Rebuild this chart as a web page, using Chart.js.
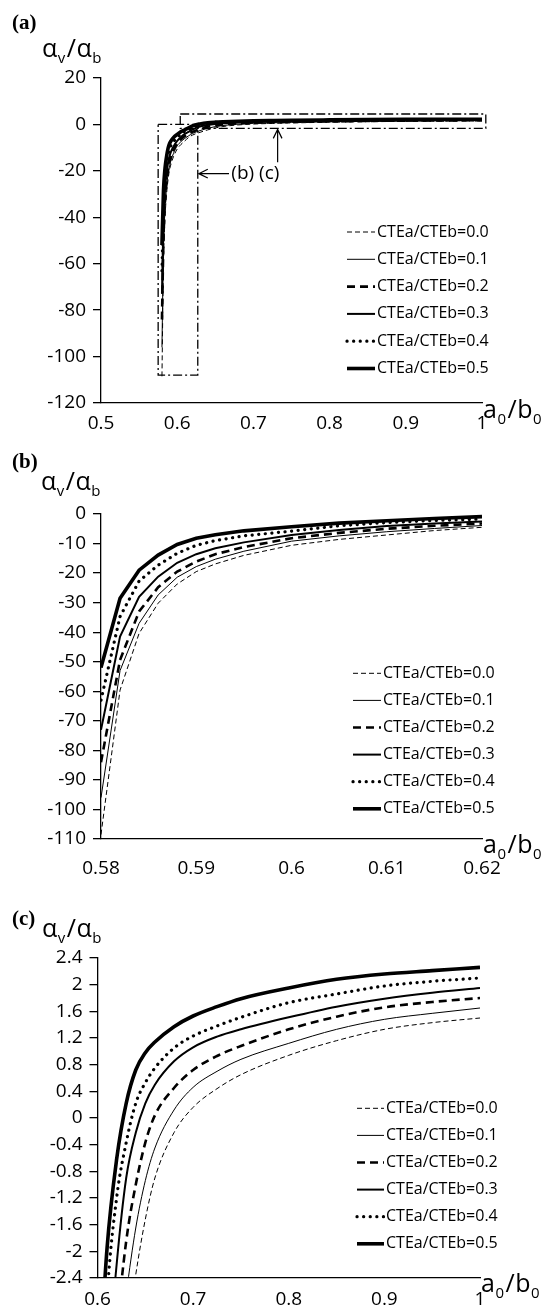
<!DOCTYPE html>
<html>
<head>
<meta charset="utf-8">
<script src="https://cdn.jsdelivr.net/npm/chart.js@4.4.0/dist/chart.umd.min.js"></script>
<style>
  html, body { margin: 0; padding: 0; background: #fff; }
  #wrap { position: relative; width: 546px; height: 1305px; overflow: hidden; }
  canvas { position: absolute; left: 0; }
</style>
</head>
<body>
<div id="wrap">
  <canvas id="chartA" width="546" height="440" style="top:0"></canvas>
  <canvas id="chartB" width="546" height="450" style="top:430px"></canvas>
  <canvas id="chartC" width="546" height="435" style="top:870px"></canvas>
</div>
<script>
// CTEa/CTEb ratios, one curve each
const ratios = ["0.0", "0.1", "0.2", "0.3", "0.4", "0.5"];

// panel (b): close-up of 0.58 - 0.62
const xB = [0.58, 0.582, 0.584, 0.586, 0.588, 0.59, 0.592, 0.595, 0.6, 0.605, 0.61, 0.615, 0.62];
const yB00 = [-108.5, -59.6, -40.4, -30.2, -23.7, -19.5, -16.9, -14.0, -10.6, -8.6, -7.1, -5.6, -4.5];
const yB01 = [-96, -53, -37, -27.4, -21.4, -17.8, -15.3, -12.6, -9.2, -7.4, -6.0, -4.9, -3.9];
const yB02 = [-84, -49.4, -33, -24.8, -19.5, -16.1, -13.6, -11.2, -8.2, -6.4, -5.0, -4.0, -3.2];
const yB03 = [-73, -41.5, -28, -21.2, -16.5, -13.6, -11.6, -9.6, -7.1, -5.4, -4.1, -3.2, -2.5];
const yB04 = [-63, -34.7, -22.7, -17.3, -13.3, -10.6, -9.0, -7.4, -5.8, -4.0, -2.9, -2.2, -1.7];
const yB05 = [-52, -28.5, -19, -13.9, -10.3, -8.2, -7.0, -5.7, -4.3, -3.1, -2.3, -1.5, -0.9];

// panel (c): close-up of 0.6 - 1, y clipped to +-2.4
const xC = [0.6, 0.61, 0.62, 0.63, 0.64, 0.65, 0.66, 0.68, 0.7, 0.725, 0.75, 0.8, 0.85, 0.9, 0.95, 1.0];
const yC00 = [-10.6, -7.1, -4.6, -3.4, -2.35, -1.52, -0.9, -0.22, 0.16, 0.44, 0.65, 0.94, 1.16, 1.33, 1.43, 1.5];
const yC01 = [-9.2, -6.0, -3.9, -2.65, -1.65, -0.94, -0.45, 0.12, 0.46, 0.7, 0.88, 1.12, 1.33, 1.48, 1.57, 1.65];
const yC02 = [-8.2, -5.0, -3.2, -1.85, -1.0, -0.37, 0.04, 0.45, 0.72, 0.93, 1.08, 1.33, 1.52, 1.66, 1.74, 1.8];
const yC03 = [-7.1, -4.0, -2.2, -0.9, -0.22, 0.22, 0.5, 0.85, 1.06, 1.22, 1.33, 1.51, 1.67, 1.79, 1.88, 1.95];
const yC04 = [-5.8, -2.7, -1.2, -0.37, 0.22, 0.53, 0.75, 1.05, 1.23, 1.38, 1.51, 1.73, 1.86, 1.98, 2.05, 2.1];
const yC05 = [-4.3, -1.95, -0.62, 0.22, 0.72, 0.98, 1.14, 1.37, 1.53, 1.67, 1.79, 1.95, 2.08, 2.16, 2.21, 2.26];

const seriesB = [yB00, yB01, yB02, yB03, yB04, yB05];
const seriesC = [yC00, yC01, yC02, yC03, yC04, yC05];

// zoom windows marked on panel (a)
const windowB = { x: [0.575, 0.627], y: [-108, 0] };
const windowC = { x: [0.604, 1.005], y: [-1.7, 4.5] };

// line look of each ratio
const lineStyles = [
  { width: 1, dash: [5, 3], cap: "butt" },
  { width: 1, dash: [], cap: "butt" },
  { width: 2.6, dash: [8, 5], cap: "butt" },
  { width: 2, dash: [], cap: "butt" },
  { width: 3.2, dash: [0.1, 6.5], cap: "round" },
  { width: 3.6, dash: [], cap: "butt" },
];

const FONT = '"Open Sans", sans-serif';
Chart.defaults.font.family = FONT;
Chart.defaults.color = "#000";

function seriesDatasets(xs, ys, interp) {
  return ys.map((vals, i) => ({
    label: "CTEa/CTEb=" + ratios[i],
    isSeries: true,
    data: xs.map((x, j) => ({ x: x, y: vals[j] })),
    borderColor: "#000",
    borderWidth: lineStyles[i].width,
    borderDash: lineStyles[i].dash,
    borderCapStyle: lineStyles[i].cap,
    pointRadius: 0,
    fill: false,
    tension: 0,
    cubicInterpolationMode: interp ? "monotone" : "default",
    order: 0,
  }));
}

function windowDataset(w) {
  const pts = [[w.x[0], w.y[1]], [w.x[1], w.y[1]], [w.x[1], w.y[0]], [w.x[0], w.y[0]], [w.x[0], w.y[1]]];
  return {
    data: pts.map(p => ({ x: p[0], y: p[1] })),
    borderColor: "#000",
    borderWidth: 1.3,
    borderDash: [9, 3, 2, 3],
    pointRadius: 0,
    fill: false,
    clip: false,
    order: 10,
  };
}

// text with subscripts, e.g. alpha_v / alpha_b
function drawSubText(ctx, parts, x, y, big, small) {
  ctx.textBaseline = "alphabetic";
  ctx.textAlign = "left";
  for (const [t, sub] of parts) {
    ctx.font = (sub ? small : big) + "px " + FONT;
    ctx.fillText(t, x, sub ? y + big * 0.22 : y);
    x += ctx.measureText(t).width + (sub ? 1.5 : 0.5);
  }
}

function drawArrow(ctx, x0, y0, x1, y1) {
  const a = Math.atan2(y1 - y0, x1 - x0);
  const h = 10;
  ctx.beginPath();
  ctx.moveTo(x0, y0);
  ctx.lineTo(x1, y1);
  ctx.moveTo(x1 - h * Math.cos(a - 0.45), y1 - h * Math.sin(a - 0.45));
  ctx.lineTo(x1, y1);
  ctx.lineTo(x1 - h * Math.cos(a + 0.45), y1 - h * Math.sin(a + 0.45));
  ctx.stroke();
}

const extras = {
  id: "extras",
  afterDraw(chart, args, o) {
    const ctx = chart.ctx;
    ctx.save();
    ctx.fillStyle = "#000";
    ctx.strokeStyle = "#000";

    // panel letter
    ctx.font = 'bold 21px "Liberation Serif", serif';
    ctx.textBaseline = "alphabetic";
    ctx.fillText(o.panel, o.panelPos[0], o.panelPos[1]);

    // axis titles
    drawSubText(ctx, [["α", 0], ["v", 1], ["/", 0], ["α", 0], ["b", 1]], o.yTitle[0], o.yTitle[1], 25, 15);
    drawSubText(ctx, [["a", 0], ["0", 1], ["/", 0], ["b", 0], ["0", 1]], o.xTitle[0], o.xTitle[1], 25, 15);

    // legend built from the series datasets
    const lg = o.legend;
    chart.data.datasets.filter(d => d.isSeries).forEach((d, i) => {
      const y = lg.y0 + i * lg.dy;
      ctx.beginPath();
      ctx.lineWidth = d.borderWidth;
      ctx.setLineDash(d.borderDash);
      ctx.lineCap = d.borderCapStyle;
      ctx.moveTo(lg.x0, y);
      ctx.lineTo(lg.x1, y);
      ctx.stroke();
      ctx.setLineDash([]);
      ctx.lineCap = "butt";
      ctx.font = "16px " + FONT;
      ctx.textBaseline = "middle";
      ctx.fillText(d.label, lg.x1 + 2, y);
    });

    // arrows pointing at the zoom windows (panel a only)
    if (o.arrows) {
      const xs = chart.scales.x, ys = chart.scales.y;
      ctx.lineWidth = 1.2;
      const bY = ys.getPixelForValue(-21.2);
      drawArrow(ctx, xs.getPixelForValue(0.668), bY, xs.getPixelForValue(windowB.x[1]) + 1, bY);
      ctx.font = "19px " + FONT;
      ctx.textBaseline = "middle";
      ctx.fillText("(b) (c)", xs.getPixelForValue(0.671), bY);
      const cX = xs.getPixelForValue(0.7318);
      drawArrow(ctx, cX, ys.getPixelForValue(-16.3), cX, ys.getPixelForValue(windowC.y[0]) + 1);
    }
    ctx.restore();
  },
};

function makeChart(id, cfg) {
  const fmt = v => String(+v.toFixed(3));
  new Chart(document.getElementById(id), {
    type: "line",
    data: { datasets: cfg.datasets },
    options: {
      responsive: false,
      animation: false,
      devicePixelRatio: 1,
      layout: { padding: { left: 0, top: cfg.top, right: 546 - cfg.right, bottom: 0 } },
      plugins: {
        legend: { display: false },
        tooltip: { enabled: false },
        extras: cfg.extras,
      },
      scales: {
        x: {
          type: "linear",
          min: cfg.xMin, max: cfg.xMax,
          afterFit: s => { s.height = cfg.xHeight; },
          grid: { display: false },
          border: { display: true, color: "#000", width: 1.3 },
          ticks: { stepSize: cfg.xStep, padding: cfg.xPad, font: { size: 19 }, color: "#000", callback: fmt, maxRotation: 0 },
        },
        y: {
          min: cfg.yMin, max: cfg.yMax,
          afterFit: s => { s.width = cfg.left; },
          grid: { display: true, drawOnChartArea: false, drawTicks: true, tickLength: 8, color: "#000", lineWidth: 1.3 },
          border: { display: true, color: "#000", width: 1.3 },
          ticks: { stepSize: cfg.yStep, padding: 7, font: { size: 19 }, color: "#000", callback: fmt },
        },
      },
    },
    plugins: [extras],
  });
}

// panel (a): whole range, built from the (b) part below 0.62 and the (c) part above
const datasetsA = seriesDatasets([], ratios.map(() => []), true);
datasetsA.forEach((d, i) => {
  const left = xB.map((x, j) => ({ x: x, y: seriesB[i][j] })).filter(p => p.x < 0.62);
  const right = xC.map((x, j) => ({ x: x, y: seriesC[i][j] })).filter(p => p.x >= 0.62);
  d.data = left.concat(right);
});
datasetsA.push(windowDataset(windowB), windowDataset(windowC));

makeChart("chartA", {
  datasets: datasetsA,
  left: 101, right: 482, top: 78, xHeight: 37,
  xMin: 0.5, xMax: 1, xStep: 0.1, xPad: 1,
  yMin: -120, yMax: 20, yStep: 20,
  extras: {
    panel: "(a)", panelPos: [12, 29],
    yTitle: [42, 57], xTitle: [483, 418],
    legend: { x0: 347, x1: 375, y0: 232, dy: 27.3 },
    arrows: true,
  },
});

makeChart("chartB", {
  datasets: seriesDatasets(xB, seriesB, false),
  left: 101, right: 482, top: 84, xHeight: 41,
  xMin: 0.58, xMax: 0.62, xStep: 0.01, xPad: 10,
  yMin: -110, yMax: 0, yStep: 10,
  extras: {
    panel: "(b)", panelPos: [12, 38],
    yTitle: [41, 60], xTitle: [483, 423],
    legend: { x0: 353, x1: 381, y0: 243.3, dy: 27.1 },
    arrows: false,
  },
});

makeChart("chartC", {
  datasets: seriesDatasets(xC, seriesC, true),
  left: 97.5, right: 480, top: 88, xHeight: 27,
  xMin: 0.6, xMax: 1, xStep: 0.1, xPad: 2,
  yMin: -2.4, yMax: 2.4, yStep: 0.4,
  extras: {
    panel: "(c)", panelPos: [12, 55],
    yTitle: [42, 67], xTitle: [481, 422],
    legend: { x0: 357, x1: 384, y0: 238.3, dy: 27.1 },
    arrows: false,
  },
});
</script>
</body>
</html>
